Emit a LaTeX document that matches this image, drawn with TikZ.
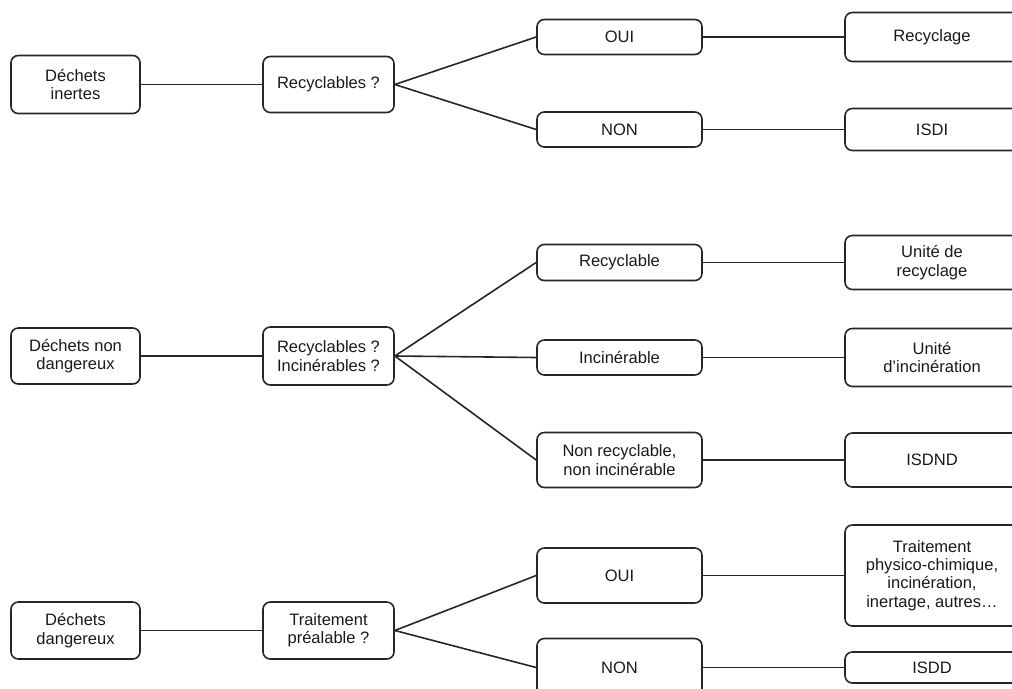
\documentclass[tikz,border=0pt]{standalone}
\usepackage{fontspec}
\setmainfont{Liberation Sans}
\usetikzlibrary{positioning}

\begin{document}
\begin{tikzpicture}[x=0.75pt, y=-0.75pt,
        box/.style={rectangle, rounded corners=5.5pt, draw=black!85, line width=1.2pt,
            align=center, inner sep=0pt, text=black!90,
            font=\fontsize{12.4}{13.8}\selectfont},
        col1/.style={box, minimum width=96.8pt},
        col2/.style={box, minimum width=98.3pt},
        col3/.style={box, minimum width=123.8pt},
        col4/.style={box, minimum width=130.5pt},
        link/.style={draw=black!85, line width=1.2pt}]
    \useasboundingbox (0, 0) rectangle (1012, 688);
    \clip (0, 0) rectangle (1012, 688);
    % premiere colonne
    \node[col1, minimum height=43.5pt] (inertes) at (75.5, 84.5) {Déchets\\inertes};
    \node[col1, minimum height=42pt] (nondang) at (75.5, 356) {Déchets non\\dangereux};
    \node[col1, minimum height=42.75pt] (dang) at (75.5, 630.5) {Déchets\\dangereux};
    % questions
    \node[col2, minimum height=42pt] (q1) at (328.5, 84.5) {Recyclables ?};
    \node[col2, minimum height=43.5pt] (q2) at (328.5, 356) {Recyclables ?\\Incinérables ?};
    \node[col2, minimum height=42.75pt] (q3) at (328.5, 630.5) {Traitement\\préalable ?};
    % reponses
    \node[col3, minimum height=26.25pt] (oui1) at (619.5, 37) {OUI};
    \node[col3, minimum height=26.25pt] (non1) at (619.5, 129.5) {NON};
    \node[col3, minimum height=27pt] (recyc) at (619.5, 262.5) {Recyclable};
    \node[col3, minimum height=26.25pt] (incin) at (619.5, 357.5) {Incinérable};
    \node[col3, minimum height=41.25pt] (nonri) at (619.5, 460) {Non recyclable,\\non incinérable};
    \node[col3, minimum height=41.25pt] (oui3) at (619.5, 575.5) {OUI};
    \node[col3, minimum height=43.5pt] (non3) at (619.5, 667.5) {NON};
    % filieres
    \node[col4, minimum height=36.75pt] (recyclage) at (932, 37) {Recyclage};
    \node[col4, minimum height=31.5pt] (isdi) at (932, 129.5) {ISDI};
    \node[col4, minimum height=40.5pt] (urecyc) at (932, 262.5) {Unité de\\recyclage};
    \node[col4, minimum height=43.5pt] (uincin) at (932, 357.5) {Unité\\d’incinération};
    \node[col4, minimum height=40.5pt] (isdnd) at (932, 460) {ISDND};
    \node[col4, minimum height=75.75pt] (traite) at (932, 575.5) {Traitement\\physico-chimique,\\incinération,\\inertage, autres…};
    \node[col4, minimum height=23.25pt] (isdd) at (932, 667.5) {ISDD};
    % liaisons
    \foreach \a/\b in {inertes/q1, q1/oui1, q1/non1, oui1/recyclage, non1/isdi,
                       nondang/q2, q2/recyc, q2/incin, q2/nonri,
                       recyc/urecyc, incin/uincin, nonri/isdnd,
                       dang/q3, q3/oui3, q3/non3, oui3/traite, non3/isdd}
    {
        \draw[link] (\a.east) -- (\b.west);
    }
\end{tikzpicture}
\end{document}
